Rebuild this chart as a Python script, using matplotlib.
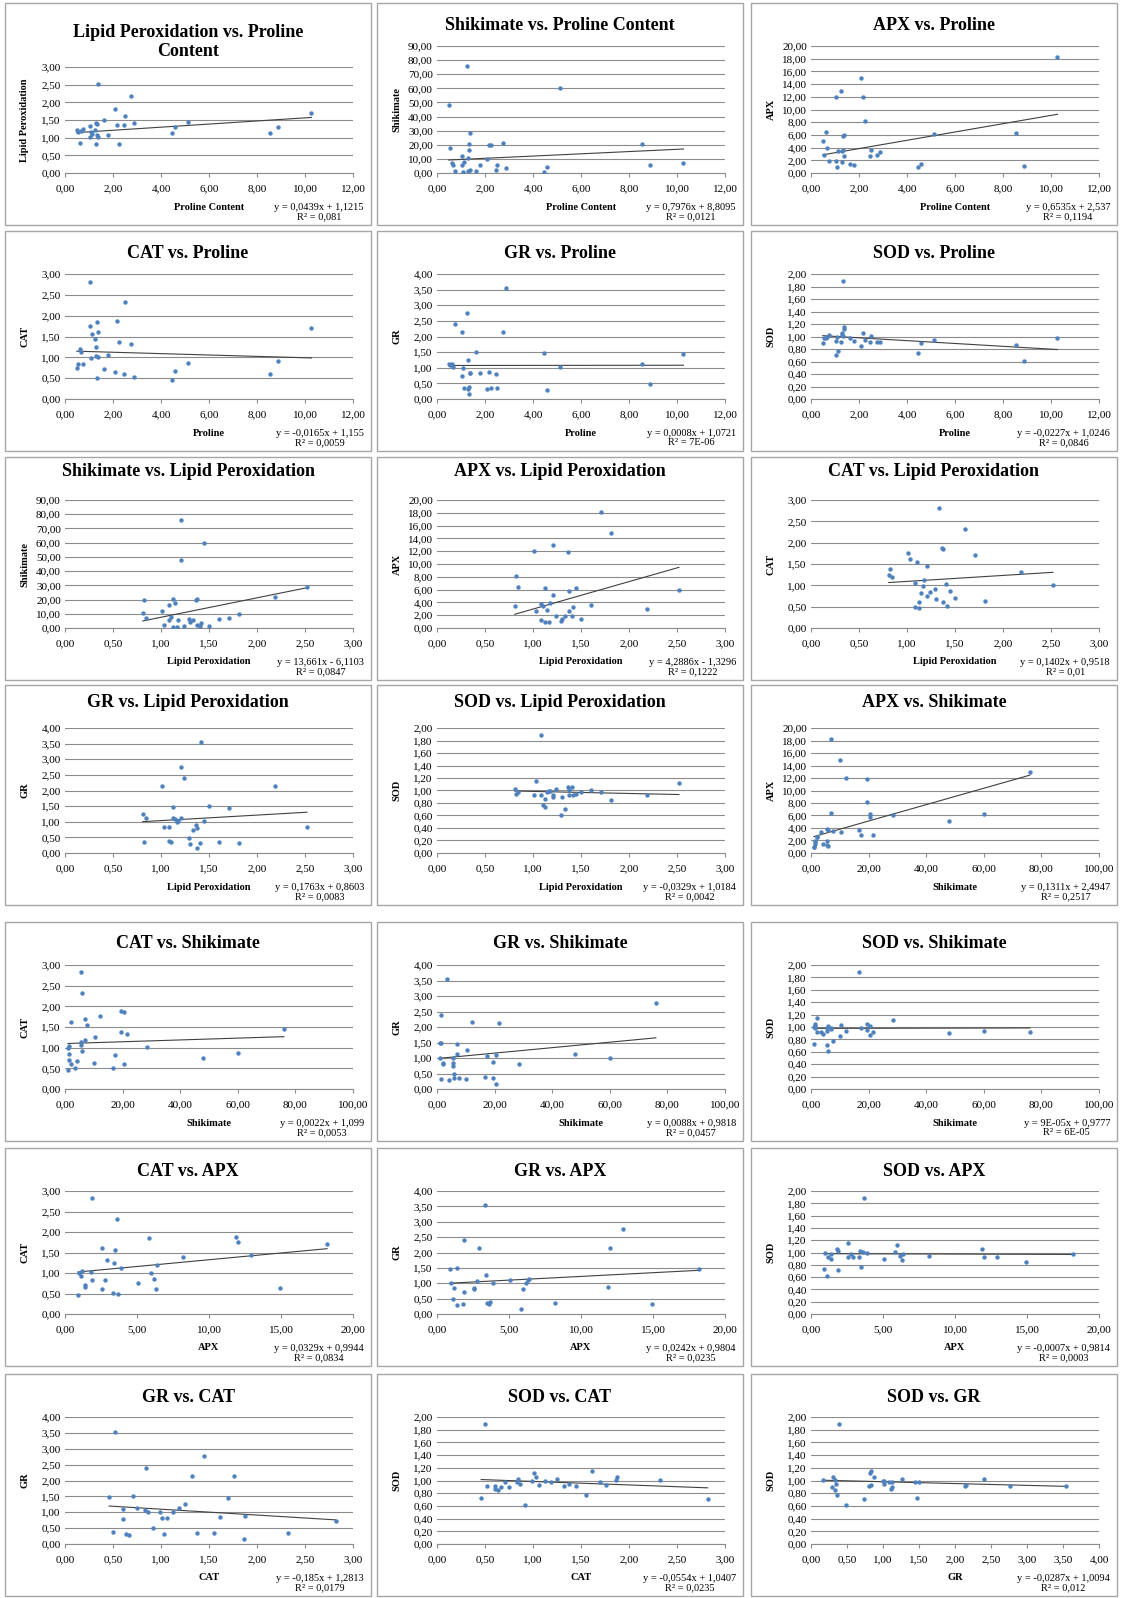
import numpy as np
import matplotlib
matplotlib.use("Agg")
import matplotlib.pyplot as plt
from matplotlib.patches import Rectangle
from matplotlib.ticker import FuncFormatter, MultipleLocator

plt.rcParams['font.family'] = ['Liberation Serif', 'DejaVu Serif']

# measurements per sample (31 samples)
proline = [0.49, 0.56, 0.61, 0.66, 0.77, 1.05, 1.05, 1.07, 1.13, 1.25, 1.30, 1.30, 1.33, 1.33, 1.37, 1.38,
           1.63, 1.81, 2.10, 2.16, 2.23, 2.46, 2.51, 2.75, 2.87, 4.47, 4.60, 5.12, 8.55, 8.87, 10.27]
lipid = [1.21, 1.15, 0.84, 1.18, 1.24, 1.01, 1.33, 1.17, 1.10, 1.21, 0.81, 1.41, 1.08, 1.38, 1.03, 2.52,
         1.50, 1.08, 1.81, 1.36, 0.82, 1.37, 1.60, 2.19, 1.42, 1.12, 1.30, 1.45, 1.12, 1.29, 1.71]
shikimate = [48.0, 17.5, 7.0, 5.5, 1.5, 12.0, 5.5, 1.0, 7.5, 76.0, 10.5, 1.5, 16.5, 20.5, 2.0, 28.5,
             1.5, 5.5, 10.0, 19.5, 19.5, 2.0, 6.0, 21.5, 3.5, 1.0, 4.0, 60.0, 20.5, 6.0, 7.0]
apx = [5.1, 2.8, 6.4, 3.9, 1.9, 12.0, 1.9, 1.0, 3.5, 12.9, 3.4, 1.8, 3.7, 5.8, 2.6, 6.0,
       1.4, 1.2, 14.9, 11.9, 8.2, 2.6, 3.6, 2.9, 3.3, 0.9, 1.4, 6.2, 6.3, 1.1, 18.2]
cat = [0.75, 0.83, 1.19, 1.13, 0.84, 1.76, 2.82, 0.99, 1.55, 1.45, 1.25, 1.03, 0.50, 1.86, 1.61, 1.01,
       0.71, 1.06, 0.64, 1.88, 1.38, 0.60, 2.32, 1.32, 0.52, 0.46, 0.67, 0.86, 0.60, 0.92, 1.70]
gr = [1.12, 1.08, 1.13, 1.01, 2.40, 2.15, 0.73, 1.00, 0.36, 2.76, 1.26, 0.31, 0.39, 0.17, 0.84, 0.82,
      1.50, 0.83, 0.33, 0.88, 0.35, 0.80, 0.34, 2.14, 3.54, 1.47, 0.29, 1.01, 1.11, 0.49, 1.45]
sod = [0.90, 0.98, 0.97, 0.99, 1.02, 0.93, 0.71, 1.00, 0.77, 0.92, 1.03, 1.05, 1.89, 1.01, 1.15, 1.12,
       0.98, 0.93, 0.85, 1.05, 0.95, 0.92, 1.01, 0.92, 0.92, 0.73, 0.89, 0.94, 0.87, 0.61, 0.98]

data = {'Proline': proline, 'Lipid Peroxidation': lipid, 'Shikimate': shikimate,
        'APX': apx, 'CAT': cat, 'GR': gr, 'SOD': sod}

# axis max and tick step
x_scale = {'Proline': (12, 2), 'Lipid Peroxidation': (3, 0.5), 'Shikimate': (100, 20),
           'APX': (20, 5), 'CAT': (3, 0.5), 'GR': (4, 0.5)}
y_scale = {'Lipid Peroxidation': (3, 0.5), 'Shikimate': (90, 10), 'APX': (20, 2),
           'CAT': (3, 0.5), 'GR': (4, 0.5), 'SOD': (2, 0.2)}

titles = ["Lipid Peroxidation vs. Proline\nContent", "Shikimate vs. Proline Content", "APX vs. Proline",
          "CAT vs. Proline", "GR vs. Proline", "SOD vs. Proline",
          "Shikimate vs. Lipid Peroxidation", "APX vs. Lipid Peroxidation", "CAT vs. Lipid Peroxidation",
          "GR vs. Lipid Peroxidation", "SOD vs. Lipid Peroxidation", "APX vs. Shikimate",
          "CAT vs. Shikimate", "GR vs. Shikimate", "SOD vs. Shikimate",
          "CAT vs. APX", "GR vs. APX", "SOD vs. APX",
          "GR vs. CAT", "SOD vs. CAT", "SOD vs. GR"]
x_vars = ['Proline'] * 6 + ['Lipid Peroxidation'] * 5 + ['Shikimate'] * 4 + ['APX'] * 3 + ['CAT'] * 2 + ['GR']
y_vars = ['Lipid Peroxidation', 'Shikimate', 'APX', 'CAT', 'GR', 'SOD',
          'Shikimate', 'APX', 'CAT', 'GR', 'SOD', 'APX',
          'CAT', 'GR', 'SOD', 'CAT', 'GR', 'SOD', 'GR', 'SOD', 'SOD']
x_labels = ['Proline Content'] * 3 + ['Proline'] * 3 + ['Lipid Peroxidation'] * 5 + ['Shikimate'] * 4 \
    + ['APX'] * 3 + ['CAT'] * 2 + ['GR']
slopes = ["0,0439", "0,7976", "0,6535", "-0,0165", "0,0008", "-0,0227",
          "13,661", "4,2886", "0,1402", "0,1763", "-0,0329", "0,1311",
          "0,0022", "0,0088", "9E-05", "0,0329", "0,0242", "-0,0007",
          "-0,185", "-0,0554", "-0,0287"]
intercepts = ["1,1215", "8,8095", "2,537", "1,155", "1,0721", "1,0246",
              "-6,1103", "-1,3296", "0,9518", "0,8603", "1,0184", "2,4947",
              "1,099", "0,9818", "0,9777", "0,9944", "0,9804", "0,9814",
              "1,2813", "1,0407", "1,0094"]
r_squared = ["0,081", "0,0121", "0,1194", "0,0059", "7E-06", "0,0846",
             "0,0847", "0,1222", "0,01", "0,0083", "0,0042", "0,2517",
             "0,0053", "0,0457", "6E-05", "0,0834", "0,0235", "0,0003",
             "0,0179", "0,0235", "0,012"]

W, H = 1123, 1598
col_edges = [(5, 371), (377, 743), (751, 1117)]
row_edges = [(3, 225), (231, 451), (457, 680), (685, 905), (922, 1141), (1148, 1366), (1374, 1596)]
title_off = [22, 22, 15, 18, 22, 24, 24]


def num(s):
    return float(s.replace(',', '.'))


comma_fmt = FuncFormatter(lambda v, p: f"{v:.2f}".replace('.', ','))

fig = plt.figure(figsize=(W / 100, H / 100), dpi=100)
fx = lambda px: px / W
fy = lambda py: 1 - py / H

for k in range(21):
    r, c = divmod(k, 3)
    bl, br = col_edges[c]
    bt, bb = row_edges[r]
    fig.add_artist(Rectangle((fx(bl), fy(bb)), fx(br - bl), (bb - bt) / H, transform=fig.transFigure,
                             fill=False, edgecolor='#a6a6a6', lw=1))

    two_line = '\n' in titles[k]
    top = bt + (64 if two_line else 43)
    left, right, bottom = bl + 60, br - 18, bb - 52
    ax = fig.add_axes([fx(left), fy(bottom), fx(right - left), (bottom - top) / H])

    xv, yv = x_vars[k], y_vars[k]
    x = np.array(data[xv])
    y = np.array(data[yv])
    ax.scatter(x, y, s=10, color='#4f81bd', zorder=3, linewidths=0)

    m, b = num(slopes[k]), num(intercepts[k])
    xs = np.array([x.min(), x.max()])
    ax.plot(xs, m * xs + b, color='#404040', lw=0.8, zorder=2)

    xmax, xstep = x_scale[xv]
    ymax, ystep = y_scale[yv]
    ax.set_xlim(0, xmax)
    ax.set_ylim(0, ymax)
    ax.xaxis.set_major_locator(MultipleLocator(xstep))
    ax.yaxis.set_major_locator(MultipleLocator(ystep))
    ax.xaxis.set_major_formatter(comma_fmt)
    ax.yaxis.set_major_formatter(comma_fmt)
    ax.grid(axis='y', color='#8c8c8c', lw=0.8)
    ax.set_axisbelow(True)
    for side in ['top', 'right', 'left']:
        ax.spines[side].set_visible(False)
    ax.spines['bottom'].set_color('#8c8c8c')
    ax.tick_params(axis='x', direction='out', length=3, color='#8c8c8c', labelsize=8, pad=5)
    ax.tick_params(axis='y', length=0, labelsize=8, pad=3)

    t_off = 39 if two_line else title_off[r]
    fig.text(fx((bl + br) / 2), fy(bt + t_off), titles[k], ha='center', va='center',
             fontsize=13, fontweight='bold', linespacing=1.1)
    fig.text(fx(bl + 20), fy((top + bottom) / 2), yv, rotation=90, ha='center', va='center',
             fontsize=7.5, fontweight='bold')
    fig.text(fx((left + right) / 2), fy(bb - 18), x_labels[k], ha='center', va='center',
             fontsize=7.5, fontweight='bold')
    sign = '-' if intercepts[k].startswith('-') else '+'
    eq = f"y = {slopes[k]}x {sign} {intercepts[k].lstrip('-')}\nR\u00b2 = {r_squared[k]}"
    fig.text(fx(br - 7), fy(bb - 13), eq, ha='right', va='center', multialignment='center',
             fontsize=7.5, linespacing=1.0)

fig.savefig('out.png', dpi=100)
